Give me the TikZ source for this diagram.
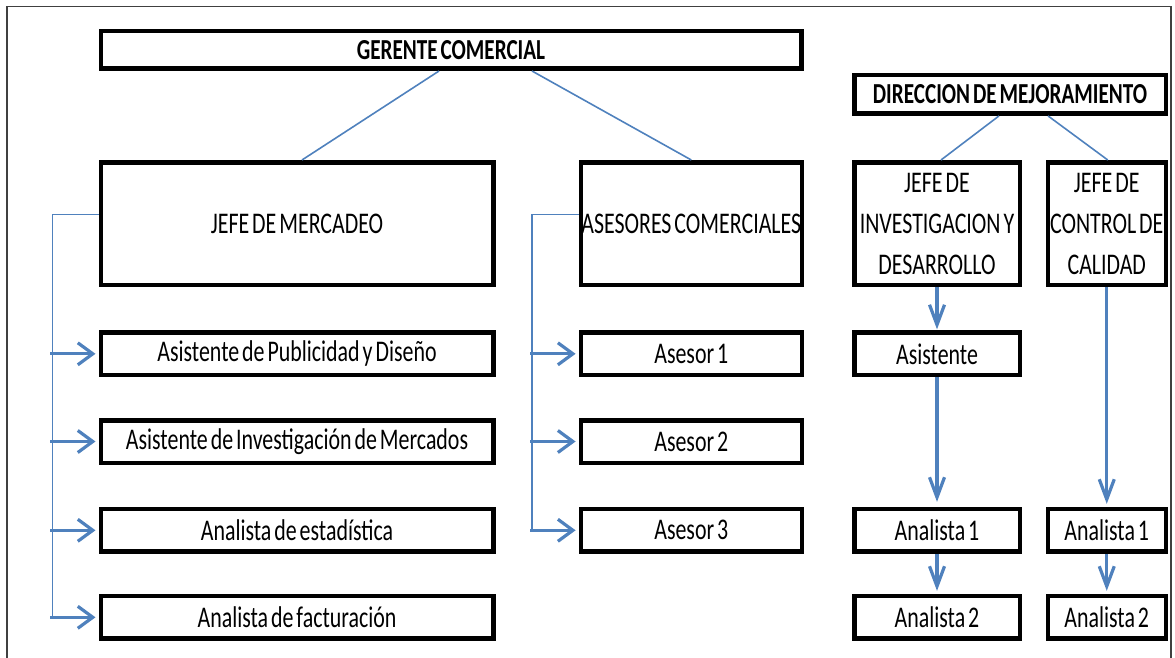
\documentclass[tikz,border=0pt]{standalone}
\usepackage{fontspec}
\setmainfont[FakeStretch=0.73, WordSpace=0.6]{Carlito}
\usetikzlibrary{arrows.meta}
\definecolor{linkblue}{RGB}{79,129,189}

\tikzset{
  box/.style 2 args={draw=black, line width=4.5pt, inner sep=0pt, fill=white,
    minimum width=#1-4.5pt, minimum height=#2-4.5pt, align=center,
    font=\fontsize{30}{41}\selectfont},
  headbox/.style 2 args={box={#1}{#2}, font=\fontsize{29}{34}\selectfont\bfseries},
  thinlink/.style={draw=linkblue, line width=1.6pt},
  harrow/.style={draw=linkblue, line width=3.2pt,
    -{Straight Barb[length=15pt,width=22pt]}, shorten >=3pt},
  varrow/.style={draw=linkblue, line width=3.2pt,
    -{Straight Barb[length=20pt,width=15pt]}},
}

\begin{document}
\begin{tikzpicture}[x=1pt,y=-1pt]
\useasboundingbox (0,0) rectangle (1175,658);

% page frame
\draw[line width=1.6pt, black!75] (7,662) -- (7,6.5) -- (1171,6.5) -- (1171,662);

% top level
\node[headbox={705pt}{42pt}] (ger) at (451,50) {GERENTE COMERCIAL};
\node[headbox={316pt}{43pt}] (dm) at (1010,94.4) {DIRECCION DE MEJORAMIENTO};

% second level
\node[box={397pt}{127pt}] (jm) at (297,223.5) {JEFE DE MERCADEO};
\node[box={225.4pt}{127pt}] (ac) at (691.3,223.5) {ASESORES COMERCIALES};
\node[box={170pt}{127pt}] (ji) at (937,223.5) {JEFE DE\\INVESTIGACION Y\\DESARROLLO};
\node[box={122.5pt}{127pt}] (jc) at (1106.75,223.5) {JEFE DE\\CONTROL DE\\CALIDAD};

% marketing staff
\node[box={397pt}{47pt}] (m1) at (297,353.8) {Asistente de Publicidad y Diseño};
\node[box={397pt}{47pt}] (m2) at (297,441.5) {Asistente de Investigación de Mercados};
\node[box={397pt}{47pt}] (m3) at (297,530.3) {Analista de estadística};
\node[box={397pt}{47pt}] (m4) at (297,617.3) {Analista de facturación};

% sales advisers
\node[box={225.4pt}{47pt}] (a1) at (691.3,353.8) {Asesor 1};
\node[box={225.4pt}{47pt}] (a2) at (691.3,441.5) {Asesor 2};
\node[box={225.4pt}{47pt}] (a3) at (691.3,530.3) {Asesor 3};

% research and development staff
\node[box={170pt}{47pt}] (ri) at (937,353.8) {Asistente};
\node[box={170pt}{47pt}] (r1) at (937,530.3) {Analista 1};
\node[box={170pt}{47pt}] (r2) at (937,617.3) {Analista 2};

% quality control staff
\node[box={122.5pt}{47pt}] (q1) at (1106.75,530.3) {Analista 1};
\node[box={122.5pt}{47pt}] (q2) at (1106.75,617.3) {Analista 2};

% links from the heads
\draw[thinlink] ([xshift=-12pt]ger.south) -- ([xshift=5pt]jm.north);
\draw[thinlink] ([xshift=81pt]ger.south) -- (ac.north);
\draw[thinlink] ([xshift=-11pt]dm.south) -- ([xshift=4pt]ji.north);
\draw[thinlink] ([xshift=38pt]dm.south) -- ([xshift=1pt]jc.north);

% marketing bus
\coordinate (mbus) at (52.4,214.3);
\draw[thinlink] ([yshift=9.2pt]jm.west) -- (mbus) -- (mbus |- m4.west);
\foreach \n in {m1,m2,m3,m4}
  \draw[harrow] ([xshift=-2pt]mbus |- \n.west) -- (\n.west);

% sales bus
\coordinate (abus) at (532,214.3);
\draw[thinlink] ([yshift=9.2pt]ac.west) -- (abus) -- (abus |- a3.west);
\foreach \n in {a1,a2,a3}
  \draw[harrow] ([xshift=-2pt]abus |- \n.west) -- (\n.west);

% vertical chains
\draw[varrow, shorten >=1pt] (ji.south) -- (ri.north);
\draw[varrow, shorten >=5pt] (ri.south) -- (r1.north);
\draw[varrow, shorten >=3pt] (r1.south) -- (r2.north);
\draw[varrow, shorten >=3pt] (jc.south) -- (q1.north);
\draw[varrow, shorten >=3pt] (q1.south) -- (q2.north);
\end{tikzpicture}
\end{document}
